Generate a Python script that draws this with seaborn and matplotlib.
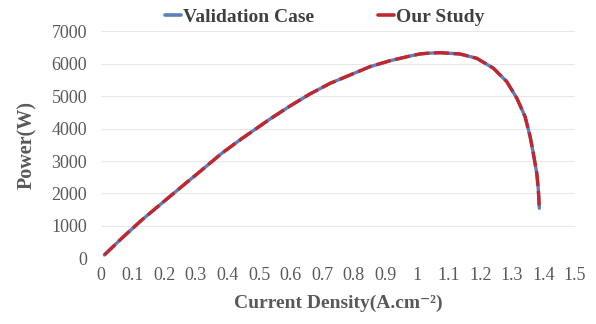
import matplotlib
matplotlib.use("Agg")
import matplotlib.pyplot as plt
import seaborn as sns
import pandas as pd

current_density = [0.0105, 0.0655, 0.129, 0.192, 0.255, 0.319, 0.382, 0.445,
                   0.535, 0.598, 0.661, 0.725, 0.788, 0.851, 0.915, 0.978, 1.009,
                   1.031, 1.073, 1.136, 1.189, 1.242, 1.284, 1.316, 1.342, 1.358,
                   1.368, 1.379, 1.384, 1.387]
power_validation = [102, 617, 1182, 1697, 2210, 2725, 3240, 3690,
                    4300, 4700, 5071, 5400, 5657, 5914, 6099, 6244, 6306,
                    6327, 6346, 6306, 6173, 5864, 5451, 4938, 4370, 3753,
                    3240, 2623, 2108, 1543]
power_study = [102, 617, 1182, 1697, 2210, 2725, 3240, 3690,
               4300, 4700, 5071, 5400, 5657, 5914, 6099, 6244, 6306,
               6327, 6346, 6306, 6173, 5864, 5451, 4938, 4370, 3753,
               3240, 2623, 2108, 1543]
series_names = ["Validation Case", "Our Study"]
x_ticks = [0, 0.1, 0.2, 0.3, 0.4, 0.5, 0.6, 0.7, 0.8, 0.9, 1.0, 1.1, 1.2, 1.3, 1.4, 1.5]
x_tick_labels = ["0", "0.1", "0.2", "0.3", "0.4", "0.5", "0.6", "0.7", "0.8", "0.9",
                 "1", "1.1", "1.2", "1.3", "1.4", "1.5"]
y_ticks = [0, 1000, 2000, 3000, 4000, 5000, 6000, 7000]

sns.set_theme(style="white")
plt.rcParams["font.family"] = ["Liberation Serif", "DejaVu Serif"]

df = pd.DataFrame({
    "x": current_density + current_density,
    "y": power_validation + power_study,
    "series": [series_names[0]] * len(current_density) + [series_names[1]] * len(current_density),
})

fig = plt.figure(figsize=(5.96, 3.24), dpi=100)
ax = fig.add_axes([0.1695, 0.2028, 0.7953, 0.70])

blue = "#5A7FC0"
red = "#C1272D"
sns.lineplot(data=df[df.series == series_names[0]], x="x", y="y", ax=ax,
             color=blue, lw=2.4, label=series_names[0], sort=False)
sns.lineplot(data=df[df.series == series_names[1]], x="x", y="y", ax=ax,
             color=red, lw=2.4, label=series_names[1], sort=False)
ax.lines[1].set_dashes((4.5, 1.4))
for ln in ax.lines:
    ln.set_solid_joinstyle("round")
    ln.set_dash_joinstyle("round")

ax.set_xlim(0, 1.5)
ax.set_ylim(0, 7000)
ax.set_xticks(x_ticks)
ax.set_xticklabels(x_tick_labels)
ax.set_yticks(y_ticks)
ax.grid(axis="y", color="#E8E8E8", lw=0.8)
ax.grid(axis="x", visible=False)
for s in ax.spines.values():
    s.set_visible(False)
ax.tick_params(axis="both", length=0, labelsize=13, colors="#595959", pad=6)
ax.tick_params(axis="y", pad=10)

ax.set_xlabel("Current Density(A.cm\u207b\u00b2)", fontsize=14, fontweight="bold",
              color="#595959", labelpad=8)
ax.set_ylabel("Power(W)", fontsize=14.5, fontweight="bold", color="#595959", labelpad=10)

leg = ax.legend(loc="center", bbox_to_anchor=(0.545, 0.947), bbox_transform=fig.transFigure,
                ncol=2, frameon=False, handlelength=0.8, handletextpad=0.1, columnspacing=3.3,
                prop={"family": "Liberation Serif", "weight": "bold", "size": 14})
for t in leg.get_texts():
    t.set_color("#404040")
for h in leg.get_lines():
    h.set_linestyle("-")
    h.set_linewidth(2.6)

fig.savefig("out.png", dpi=100)
